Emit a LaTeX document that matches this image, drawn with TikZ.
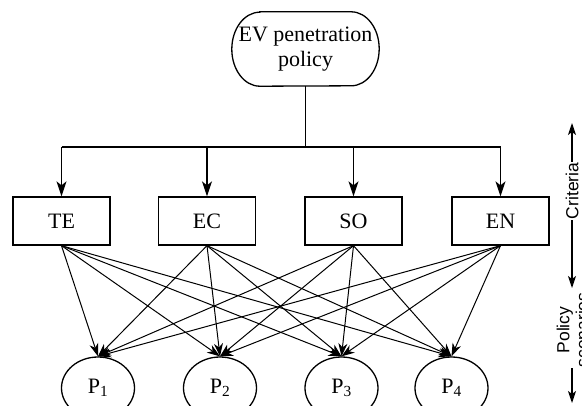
\documentclass[tikz,border=0pt]{standalone}
\usepackage{fontspec}
\setmainfont{Liberation Serif}
\newfontfamily\sansf{Liberation Sans}
\usetikzlibrary{arrows.meta,shapes.geometric}
\begin{document}
\begin{tikzpicture}[x=1pt,y=-1pt,
  every node/.style={font=\fontsize{22}{25}\selectfont},
  crit/.style={draw,line width=1.3pt,minimum width=97pt,minimum height=48pt,inner sep=0pt},
  pnode/.style={draw,ellipse,line width=1.3pt,minimum width=73pt,minimum height=62pt,inner sep=0pt},
  bigarrow/.style={line width=1.3pt,-{Stealth[length=15pt,width=10pt,inset=4pt]}},
  smallarrow/.style={line width=1pt,-{Stealth[length=13pt,width=9pt,inset=4pt]}},
  sidearrow/.style={line width=1.2pt,{Stealth[length=12pt,width=8pt,inset=3pt]}-{Stealth[length=12pt,width=8pt,inset=3pt]}},
  sidelabel/.style={rotate=90,fill=white,inner sep=1pt,align=center,font=\sansf\fontsize{17.5}{19}\selectfont}]
\useasboundingbox (0,0) rectangle (582,405);
\clip (0,0) rectangle (582,405);
% top node
\node[minimum width=147pt,minimum height=74pt,inner sep=0pt,align=center] (top) at (305.5,49) {EV penetration\\policy};
\draw[line width=1.3pt] ([xshift=28pt]top.north west) -- ([xshift=-28pt]top.north east)
  arc[start angle=90,end angle=-90,x radius=28pt,y radius=37pt]
  -- ([xshift=28pt]top.south west)
  arc[start angle=270,end angle=90,x radius=28pt,y radius=37pt] -- cycle;
% criteria boxes
\node[crit] (TE) at (61.5,221) {TE};
\node[crit] (EC) at (207,221) {EC};
\node[crit] (SO) at (353.5,221) {SO};
\node[crit] (EN) at (500.5,221) {EN};
% bus
\coordinate (bus) at (305.5,147);
\draw[line width=1.3pt] (top.south) -- (bus);
\draw[line width=1.3pt] (TE.north |- bus) -- (EN.north |- bus);
\foreach \n in {TE,EC,SO,EN}{
  \draw[bigarrow] (\n.north |- bus) -- (\n.north);
}
% policy scenarios
\node[pnode] (P1) at (98,388) {P\textsubscript{1}};
\node[pnode] (P2) at (220,388) {P\textsubscript{2}};
\node[pnode] (P3) at (341.5,388) {P\textsubscript{3}};
\node[pnode] (P4) at (451.5,388) {P\textsubscript{4}};
\foreach \s in {TE,EC,SO,EN}{
  \foreach \t in {P1,P2,P3,P4}{
    \draw[smallarrow] (\s.south) -- (\t.north);
  }
}
% side labels
\coordinate (ct) at (572,123);
\coordinate (cb) at (572,288);
\coordinate (pt) at (572,293);
\coordinate (pb) at (572,403);
\draw[sidearrow] (ct) -- (cb);
\draw[sidearrow] (pt) -- (pb);
\node[sidelabel] (crl) at (572,191) {Criteria};
\node[sidelabel] (pol) at (572.5,330) {Policy\\scenarios};
\end{tikzpicture}
\end{document}
